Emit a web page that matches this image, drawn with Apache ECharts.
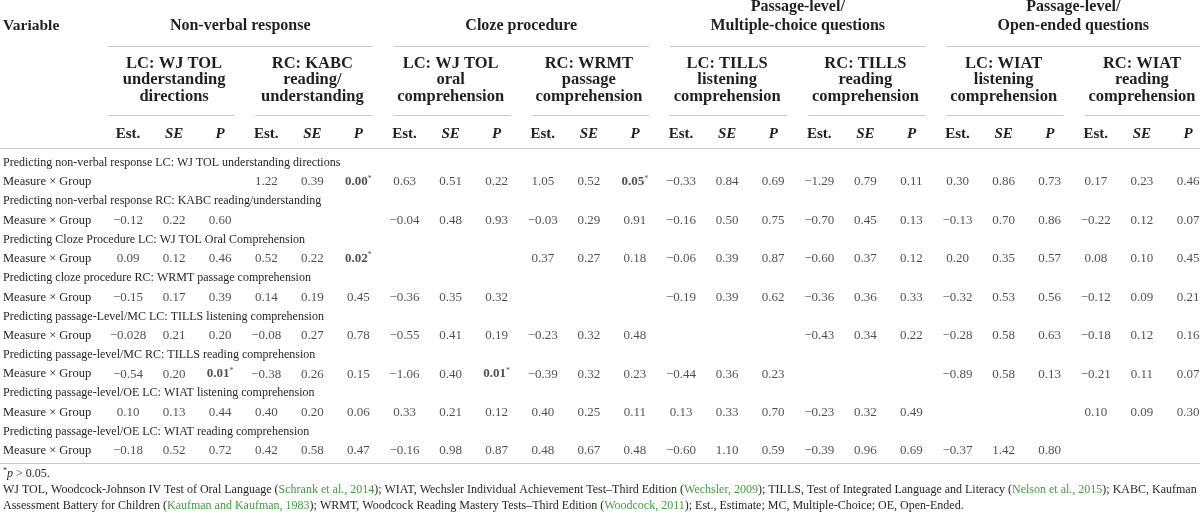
<!DOCTYPE html>
<html lang="en">
<head>
<meta charset="UTF-8">
<title>Measure x Group estimates</title>
<script src="https://cdn.jsdelivr.net/npm/echarts@6/dist/echarts.min.js"></script>
</head>
<body style="margin:0;background:#fff;">
<div id="main" style="width:1200px;height:518px;"></div>
<script>
// column headings
var statLabels = ['Est.', 'SE', 'P'];
var measureGroups = ['Non-verbal response', 'Cloze procedure',
    'Passage-level/\nMultiple-choice questions', 'Passage-level/\nOpen-ended questions'];
var subMeasures = [
    'LC: WJ TOL\nunderstanding\ndirections', 'RC: KABC\nreading/\nunderstanding',
    'LC: WJ TOL\noral\ncomprehension', 'RC: WRMT\npassage\ncomprehension',
    'LC: TILLS\nlistening\ncomprehension', 'RC: TILLS\nreading\ncomprehension',
    'LC: WIAT\nlistening\ncomprehension', 'RC: WIAT\nreading\ncomprehension'];
var predictorRows = [
    'Predicting non-verbal response LC: WJ TOL understanding directions',
    'Predicting non-verbal response RC: KABC reading/understanding',
    'Predicting Cloze Procedure LC: WJ TOL Oral Comprehension',
    'Predicting cloze procedure RC: WRMT passage comprehension',
    'Predicting passage-Level/MC LC: TILLS listening comprehension',
    'Predicting passage-level/MC RC: TILLS reading comprehension',
    'Predicting passage-level/OE LC: WIAT listening comprehension',
    'Predicting passage-level/OE LC: WIAT reading comprehension'];

// Est, SE, P for each of the 8 outcome measures (null = blank cell)
var nvLcRow    = [null, null, null, 1.22, 0.39, 0.00, 0.63, 0.51, 0.22, 1.05, 0.52, 0.05, -0.33, 0.84, 0.69, -1.29, 0.79, 0.11, 0.30, 0.86, 0.73, 0.17, 0.23, 0.46];
var nvRcRow    = [-0.12, 0.22, 0.60, null, null, null, -0.04, 0.48, 0.93, -0.03, 0.29, 0.91, -0.16, 0.50, 0.75, -0.70, 0.45, 0.13, -0.13, 0.70, 0.86, -0.22, 0.12, 0.07];
var clozeLcRow = [0.09, 0.12, 0.46, 0.52, 0.22, 0.02, null, null, null, 0.37, 0.27, 0.18, -0.06, 0.39, 0.87, -0.60, 0.37, 0.12, 0.20, 0.35, 0.57, 0.08, 0.10, 0.45];
var clozeRcRow = [-0.15, 0.17, 0.39, 0.14, 0.19, 0.45, -0.36, 0.35, 0.32, null, null, null, -0.19, 0.39, 0.62, -0.36, 0.36, 0.33, -0.32, 0.53, 0.56, -0.12, 0.09, 0.21];
var mcLcRow    = [-0.028, 0.21, 0.20, -0.08, 0.27, 0.78, -0.55, 0.41, 0.19, -0.23, 0.32, 0.48, null, null, null, -0.43, 0.34, 0.22, -0.28, 0.58, 0.63, -0.18, 0.12, 0.16];
var mcRcRow    = [-0.54, 0.20, 0.01, -0.38, 0.26, 0.15, -1.06, 0.40, 0.01, -0.39, 0.32, 0.23, -0.44, 0.36, 0.23, null, null, null, -0.89, 0.58, 0.13, -0.21, 0.11, 0.07];
var oeLcRow    = [0.10, 0.13, 0.44, 0.40, 0.20, 0.06, 0.33, 0.21, 0.12, 0.40, 0.25, 0.11, 0.13, 0.33, 0.70, -0.23, 0.32, 0.49, null, null, null, 0.10, 0.09, 0.30];
var oeRcRow    = [-0.18, 0.52, 0.72, 0.42, 0.58, 0.47, -0.16, 0.98, 0.87, 0.48, 0.67, 0.48, -0.60, 1.10, 0.59, -0.39, 0.96, 0.69, -0.37, 1.42, 0.80, null, null, null];
// [row, column] of the starred p values
var sigCells = [[0, 5], [0, 11], [2, 5], [5, 2], [5, 8]];

var rows = [nvLcRow, nvRcRow, clozeLcRow, clozeRcRow, mcLcRow, mcRcRow, oeLcRow, oeRcRow];
var FONT = '"Liberation Serif", "DejaVu Serif", serif';
var INK = '#231f20';
var RULE = '#c8c8c8';
var GREEN = '#3d9f3d';

function fmt(v) {
    var a = Math.abs(v);
    var d = Math.max(2, (String(a).split('.')[1] || '').length);
    return (v < 0 ? '\u2212' : '') + a.toFixed(d);
}
function isSig(r, c) {
    return sigCells.some(function (s) { return s[0] === r && s[1] === c; });
}

var xIds = [], xNames = [];
for (var g = 0; g < subMeasures.length; g++) {
    statLabels.forEach(function (s) { xIds.push('c' + xIds.length); xNames.push(s); });
}
var yIds = [], yNames = [];
predictorRows.forEach(function (p) {
    yIds.push('r' + yIds.length); yNames.push('{p|' + p + '}');
    yIds.push('r' + yIds.length); yNames.push('{m|Measure \u00d7 Group}');
});

var cells = [];
rows.forEach(function (row, r) {
    row.forEach(function (v, c) {
        if (v === null) return;
        cells.push({ value: [c, r * 2 + 1], text: fmt(v), sig: isSig(r, c) });
    });
});

var chart = echarts.init(document.getElementById('main'));
chart.setOption({
    animation: false,
    grid: { left: 128, right: 12, top: 153.1, height: 307.5 },
    xAxis: {
        type: 'category', data: xIds, position: 'top', boundaryGap: false,
        axisLine: { show: false }, axisTick: { show: false }, splitLine: { show: false },
        axisLabel: {
            interval: 0, margin: 11,
            formatter: function (v, i) {
                var s = xNames[i];
                return s === 'Est.' ? '{n|' + s + '}' : '{i|' + s + '}';
            },
            rich: {
                n: { fontFamily: FONT, fontSize: 15, fontWeight: 'bold', color: INK },
                i: { fontFamily: FONT, fontSize: 15, fontWeight: 'bold', fontStyle: 'italic', color: INK }
            }
        }
    },
    yAxis: {
        type: 'category', data: yIds, inverse: true,
        axisLine: { show: false }, axisTick: { show: false }, splitLine: { show: false },
        axisLabel: {
            interval: 0, align: 'left', margin: 125,
            fontFamily: FONT, fontSize: 12.5, color: INK,
            formatter: function (v, i) { return yNames[i]; },
            rich: {
                p: { fontFamily: FONT, fontSize: 12, color: INK },
                m: { fontFamily: FONT, fontSize: 12.5, color: INK }
            }
        }
    },
    series: [{
        type: 'scatter', silent: true, symbolSize: 1,
        itemStyle: { color: 'rgba(0,0,0,0)' },
        data: cells,
        label: {
            show: true, position: 'inside', fontFamily: FONT, fontSize: 13, color: INK,
            formatter: function (p) {
                return p.data.sig ? '{b|' + p.data.text + '}{s|*}' : p.data.text;
            },
            rich: {
                b: { fontFamily: FONT, fontSize: 13, fontWeight: 'bold', color: INK },
                s: { fontFamily: FONT, fontSize: 8, color: INK, padding: [0, 0, 7, 0] }
            }
        }
    }]
});

// header texts and rules, placed from the x axis columns
function colX(i) { return chart.convertToPixel({ xAxisIndex: 0 }, i); }
var W = chart.getWidth();
var gfx = [];
function rule(x1, x2, y) {
    gfx.push({ type: 'line', silent: true, shape: { x1: x1, y1: y, x2: x2, y2: y },
        style: { stroke: RULE, lineWidth: 1 } });
}
function label(text, x, y, align, vAlign, size, lh) {
    gfx.push({ type: 'text', silent: true, style: {
        text: text, x: x, y: y, textAlign: align, textVerticalAlign: vAlign,
        font: 'bold ' + size + 'px ' + FONT, fill: INK, lineHeight: lh } });
}

label('Variable', 3, 26, 'left', 'middle', 15.5, 19);
var spans = subMeasures.map(function (s, k) {
    var est = colX(k * 3), p = colX(k * 3 + 2);
    var a = k === 0 ? est - 20 : est - 11, b = Math.min(W, p + 14);
    rule(a, b, 115.5);
    label(s, colX(k * 3 + 1), 55, 'center', 'top', 16.5, 16.5);
    return [a, b];
});
measureGroups.forEach(function (m, k) {
    var a = spans[k * 2][0], b = spans[k * 2 + 1][1];
    rule(a, b, 46.5);
    label(m, (a + b) / 2, 35.5, 'center', 'bottom', 16, 19);
});
rule(0, W, 148.5);
rule(0, W, 463.5);

// footnotes
var noteRich = {
    g: { fill: GREEN, fontFamily: FONT, fontSize: 12 },
    it: { fontStyle: 'italic', fontFamily: FONT, fontSize: 12 },
    sup: { fontFamily: FONT, fontSize: 8, padding: [0, 0, 6, 0] }
};
var notes = [
    '{sup|*}{it|p} > 0.05.',
    'WJ TOL, Woodcock-Johnson IV Test of Oral Language ({g|Schrank et al., 2014}); WIAT, Wechsler Individual Achievement Test\u2013Third Edition ({g|Wechsler, 2009}); TILLS, Test of Integrated Language and Literacy ({g|Nelson et al., 2015}); KABC, Kaufman',
    'Assessment Battery for Children ({g|Kaufman and Kaufman, 1983}); WRMT, Woodcock Reading Mastery Tests\u2013Third Edition ({g|Woodcock, 2011}); Est., Estimate; MC, Multiple-Choice; OE, Open-Ended.'
];
[473.5, 489.5, 505.5].forEach(function (y, i) {
    gfx.push({ type: 'text', silent: true, style: {
        text: notes[i], x: 3, y: y, textAlign: 'left', textVerticalAlign: 'middle',
        font: '12px ' + FONT, fill: INK, rich: noteRich } });
});

chart.setOption({ graphic: gfx });
</script>
</body>
</html>
